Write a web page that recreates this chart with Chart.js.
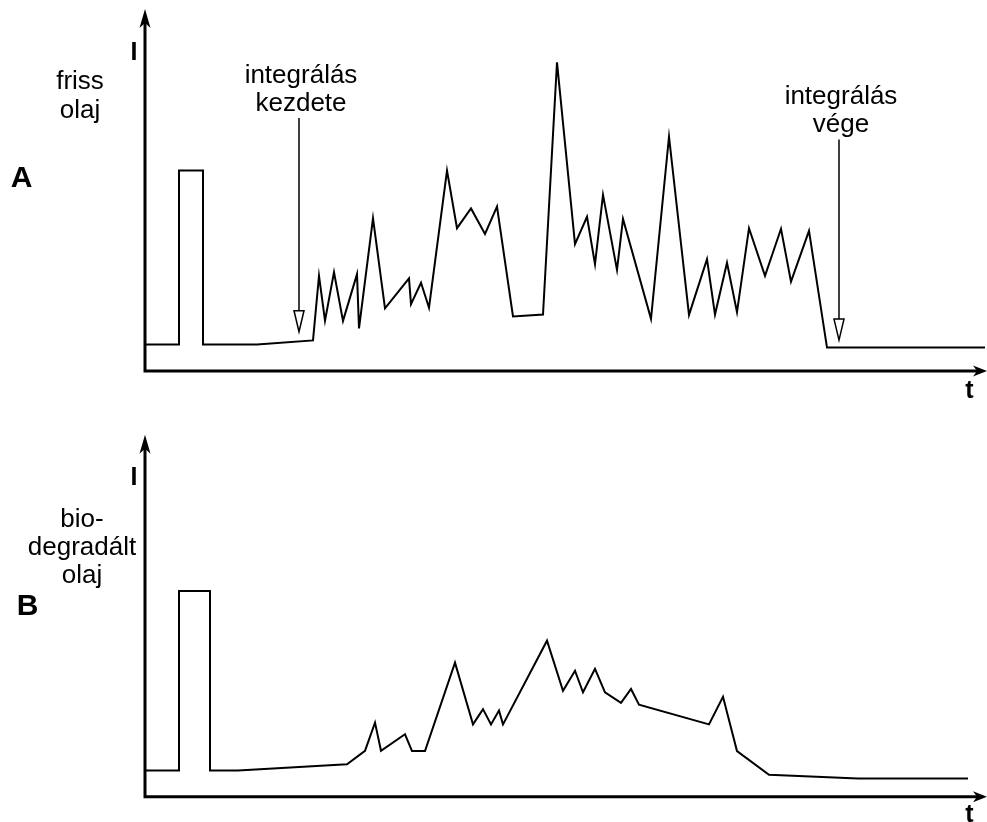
<!DOCTYPE html>
<html>
<head>
<meta charset="utf-8">
<script src="https://cdn.jsdelivr.net/npm/chart.js@4"></script>
<style>
  body { margin: 0; background: #fff; }
  .panel { position: absolute; left: 0; width: 987px; height: 411px; }
  #panelA { top: 0; }
  #panelB { top: 411px; }
</style>
</head>
<body>
<div class="panel" id="panelA"><canvas id="chartA" width="987" height="411"></canvas></div>
<div class="panel" id="panelB"><canvas id="chartB" width="987" height="411"></canvas></div>
<script>
// A - friss olaj
const timeA = [0, 3.4, 3.4, 5.8, 5.8, 11.2, 16.8, 17.4, 18.0, 18.9, 19.8, 21.2, 21.4, 22.8, 24.0,
    26.4, 26.6, 27.6, 28.4, 30.2, 31.2, 32.6, 34.0, 35.2, 36.8, 39.8, 41.2, 43.0, 44.2, 45.0,
    45.8, 47.2, 47.8, 50.6, 52.4, 54.4, 56.2, 57.0, 58.2, 59.2, 60.4, 62.0, 63.6, 64.6, 66.4,
    68.2, 84.0];
const intensA = [8.8, 8.8, 66.8, 66.8, 8.8, 8.8, 10.2, 31.7, 16.8, 32.9, 16.7, 32.3, 14.2, 50.9, 20.9,
    30.9, 22.3, 29.4, 21.1, 66.8, 47.6, 54.2, 45.7, 54.8, 18.2, 18.8, 102.9, 42.3, 51.4, 35.6,
    58.7, 33.7, 50.7, 17.4, 78.1, 18.7, 37.3, 18.8, 36.1, 19.6, 47.6, 31.7, 47.4, 29.8, 46.7,
    7.8, 7.8];

// B - biodegradált olaj
const timeB = [0, 3.4, 3.4, 6.5, 6.5, 9.3, 20.2, 22.0, 23.0, 23.6, 26.0, 26.7, 28.0, 31.0, 32.8,
    33.8, 34.6, 35.4, 35.8, 40.2, 41.8, 43.0, 43.8, 45.0, 46.0, 47.6, 48.6, 49.4, 56.4, 57.8,
    59.2, 62.4, 71.3, 82.3];
const intensB = [8.7, 8.7, 68.6, 68.6, 8.7, 8.7, 10.8, 15.3, 24.7, 15.3, 20.8, 15.2, 15.2, 44.7, 24.1,
    29.2, 24.1, 28.7, 24.1, 52.0, 35.3, 42.0, 34.8, 42.6, 34.8, 31.3, 35.9, 30.7, 24.1, 33.3,
    15.2, 7.3, 6.1, 6.1];

// integration start / end markers (panel A)
const markTimes = [15.4, 69.4];
const markTop = [84.3, 77.2];
const markTip = [13.1, 10.3];
const markLabels = [['integrálás', 'kezdete'], ['integrálás', 'vége']];

const panelLetters = ['A', 'B'];
const sampleLabels = [['friss', 'olaj'], ['bio-', 'degradált', 'olaj']];
const axisNames = ['I', 't'];

const FONT = '"Liberation Sans", Arial, sans-serif';

const sketch = {
    id: 'sketch',
    afterDraw(chart, args, o) {
        const ctx = chart.ctx;
        const { left, right, top, bottom } = chart.chartArea;
        const xs = chart.scales.x, ys = chart.scales.y;
        ctx.save();
        ctx.strokeStyle = '#000';
        ctx.fillStyle = '#000';

        // axes
        ctx.lineWidth = 3;
        ctx.beginPath();
        ctx.moveTo(left, bottom + 1.5);
        ctx.lineTo(left, top + 8);
        ctx.moveTo(left - 1.5, bottom);
        ctx.lineTo(right - 6, bottom);
        ctx.stroke();

        ctx.beginPath();
        ctx.moveTo(left, top - 2);
        ctx.lineTo(left + 5.5, top + 17);
        ctx.lineTo(left, top + 12);
        ctx.lineTo(left - 5.5, top + 17);
        ctx.closePath();
        ctx.fill();

        ctx.beginPath();
        ctx.moveTo(right + 2, bottom);
        ctx.lineTo(right - 12, bottom - 5.5);
        ctx.lineTo(right - 8, bottom);
        ctx.lineTo(right - 12, bottom + 5.5);
        ctx.closePath();
        ctx.fill();

        // axis names and panel letter
        ctx.textAlign = 'center';
        ctx.textBaseline = 'alphabetic';
        ctx.font = 'bold 25px ' + FONT;
        ctx.fillText(axisNames[0], 134, o.iY);
        ctx.fillText(axisNames[1], 969.5, o.tY);
        ctx.font = 'bold 30px ' + FONT;
        ctx.fillText(o.letter, o.letterX, o.letterY);

        ctx.font = '26px ' + FONT;
        o.sample.forEach((s, i) => ctx.fillText(s, o.sampleX, o.sampleY + i * o.lineGap));

        // integration markers
        if (o.marks) {
            ctx.lineWidth = 1.5;
            markTimes.forEach((t, i) => {
                const x = xs.getPixelForValue(t);
                const y1 = ys.getPixelForValue(markTop[i]);
                const y2 = ys.getPixelForValue(markTip[i]);
                ctx.beginPath();
                ctx.moveTo(x, y1);
                ctx.lineTo(x, y2 - 21);
                ctx.stroke();
                ctx.beginPath();
                ctx.moveTo(x - 5, y2 - 21);
                ctx.lineTo(x + 5, y2 - 21);
                ctx.lineTo(x, y2);
                ctx.closePath();
                ctx.fillStyle = '#fff';
                ctx.fill();
                ctx.stroke();
                ctx.fillStyle = '#000';
                const lines = markLabels[i];
                lines.forEach((s, j) => {
                    ctx.fillText(s, x + 2, y1 - 7 - (lines.length - 1 - j) * 28);
                });
            });
        }
        ctx.restore();
    }
};

function makeChart(id, times, values, pad, opts) {
    return new Chart(document.getElementById(id), {
        type: 'line',
        data: {
            datasets: [{
                data: times.map((t, i) => ({ x: t, y: values[i] })),
                borderColor: '#000',
                borderWidth: 2,
                pointRadius: 0,
                tension: 0,
                fill: false
            }]
        },
        options: {
            responsive: false,
            animation: false,
            layout: { padding: pad },
            scales: {
                x: { type: 'linear', min: 0, max: 84, display: false },
                y: { min: 0, max: 120, display: false }
            },
            plugins: {
                legend: { display: false },
                tooltip: { enabled: false },
                sketch: opts
            }
        },
        plugins: [sketch]
    });
}

const charts = {
    friss: makeChart('chartA', timeA, intensA,
        { left: 145, right: 2, top: 11, bottom: 40 },
        { letter: panelLetters[0], letterX: 21.5, letterY: 187, iY: 60, tY: 398,
          sample: sampleLabels[0], sampleX: 80, sampleY: 89, lineGap: 29, marks: true }),
    bio: makeChart('chartB', timeB, intensB,
        { left: 145, right: 2, top: 25.7, bottom: 25.3 },
        { letter: panelLetters[1], letterX: 27.5, letterY: 204, iY: 74, tY: 411,
          sample: sampleLabels[1], sampleX: 82, sampleY: 116, lineGap: 28, marks: false })
};
</script>
</body>
</html>
